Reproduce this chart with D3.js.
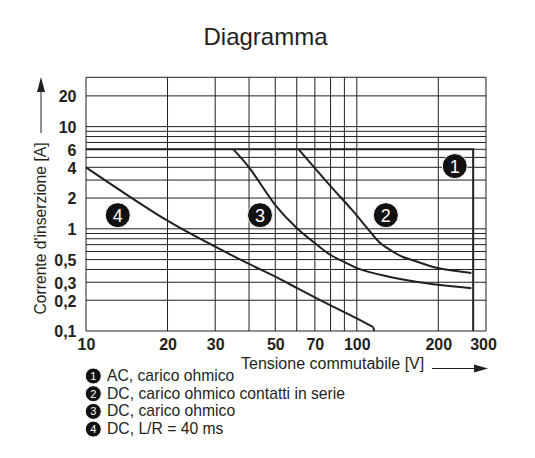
<!DOCTYPE html>
<html><head><meta charset="utf-8">
<script src="https://cdn.jsdelivr.net/npm/d3@7"></script>
<style>html,body{margin:0;padding:0;background:#fff}svg{display:block}text{font-family:"Liberation Sans",Arial,sans-serif;fill:#231f20}</style>
</head><body><div id="c"></div>
<script>
const title = "Diagramma";
const yLabel = "Corrente d'inserzione [A]";
const xLabel = "Tensione commutabile [V]";
const xGrid = [10,20,30,40,50,60,70,80,90,100,200,300];
const yGrid = [0.1,0.2,0.3,0.4,0.5,0.6,0.7,0.8,0.9,1,2,3,4,5,6,7,8,9,10,20];
const xTicks = [10,20,30,50,70,100,200,300];
const yTicks = [0.1,0.2,0.3,0.5,1,2,4,6,10,20];
const legendItems = ["AC, carico ohmico","DC, carico ohmico contatti in serie","DC, carico ohmico","DC, L/R = 40 ms"];
const curve1V = [10,269,269], curve1I = [6,6,0.1];
const curve2V = [61,80,96,112,122,133,148,162,197,265], curve2I = [6,2.62,1.53,0.94,0.726,0.62,0.53,0.49,0.416,0.37];
const curve3V = [35,40,50,60,70,80,90,100,128,170,265], curve3I = [6,4,1.71,1.02,0.726,0.554,0.473,0.413,0.345,0.3,0.262];
const curve4V = [10,20,30,40,50,60,70,80,100,115], curve4I = [4,1.2,0.668,0.453,0.34,0.264,0.213,0.178,0.133,0.109];
const curve4EndV = [115,116], curve4EndI = [0.109,0.1];
const badgeV = [230,128,43.9,13.1], badgeI = [4.11,1.36,1.36,1.36];
const ink = "#231f20";

const svg = d3.select("#c").append("svg").attr("width",535).attr("height",458);
const x = d3.scaleLog().domain([10,300]).range([86,486]);
const y = d3.scaleLog().domain([0.1,30.4]).range([331,77.3]);
const fmt = v => String(v).replace(".",",");

svg.append("text").attr("x",265.5).attr("y",45).attr("text-anchor","middle").attr("font-size",24).text(title);

const g = svg.append("g").attr("stroke",ink).attr("stroke-width",1).attr("fill","none");
g.selectAll(".gx").data(xGrid).join("line").attr("x1",d=>x(d)).attr("x2",d=>x(d)).attr("y1",y.range()[1]).attr("y2",y.range()[0]);
g.selectAll(".gy").data(yGrid).join("line").attr("y1",d=>y(d)).attr("y2",d=>y(d)).attr("x1",x.range()[0]).attr("x2",x.range()[1]);
g.append("line").attr("x1",x.range()[0]).attr("x2",x.range()[1]).attr("y1",y.range()[1]).attr("y2",y.range()[1]);

const axisX = d3.axisBottom(x).tickValues(xTicks).tickFormat(fmt).tickSize(0).tickPadding(0);
const ax = svg.append("g").attr("transform","translate(0,339)").call(axisX);
ax.select(".domain").remove();
ax.selectAll("text").attr("font-size",16).attr("font-weight","bold").attr("y",0).attr("dy","0.71em").attr("dx",d=>d===300?-3:0);
const axisY = d3.axisLeft(y).tickValues(yTicks).tickFormat(fmt).tickSize(0).tickPadding(0);
const ay = svg.append("g").attr("transform","translate(76.5,0)").call(axisY);
ay.select(".domain").remove();
ay.selectAll("text").attr("font-size",16).attr("font-weight","bold").attr("dy","0.36em");

const line = d3.line().x(d=>x(d[0])).y(d=>y(d[1]));
const smooth = d3.line().x(d=>x(d[0])).y(d=>y(d[1])).curve(d3.curveCatmullRom.alpha(0.5));
const zip = (a,b)=>a.map((v,i)=>[v,b[i]]);
const c = svg.append("g").attr("fill","none").attr("stroke",ink);
c.append("path").attr("d",line(zip(curve1V,curve1I))).attr("stroke-width",2);
[[curve2V,curve2I],[curve3V,curve3I],[curve4V,curve4I]].forEach(([a,b])=>{
  c.append("path").attr("d",smooth(zip(a,b))).attr("stroke-width",2);
});
c.append("path").attr("d",line(zip(curve4EndV,curve4EndI))).attr("stroke-width",2);

const badge = (sel,cx,cy,r,n,fs)=>{
  sel.append("circle").attr("cx",cx).attr("cy",cy).attr("r",r).attr("fill","#111").attr("stroke","#fff").attr("stroke-width",1);
  sel.append("text").attr("x",cx).attr("y",cy).attr("dy","0.36em").attr("text-anchor","middle").attr("font-size",fs).style("fill","#fff").text(n);
};
const bg = svg.append("g");
badgeV.forEach((v,i)=>badge(bg,x(v),y(badgeI[i]),12.5,i+1,18));

// axis titles and arrows
svg.append("text").attr("transform","translate(46,228.5) rotate(-90)").attr("text-anchor","middle").attr("font-size",15.7).text(yLabel);
svg.append("text").attr("x",241).attr("y",369).attr("font-size",16).text(xLabel);
svg.append("line").attr("x1",41).attr("x2",41).attr("y1",133).attr("y2",90).attr("stroke",ink);
svg.append("path").attr("d",d3.line()([[41,77],[45,92],[37,92]])+"Z").attr("fill",ink);
svg.append("line").attr("x1",432).attr("x2",476).attr("y1",368.5).attr("y2",368.5).attr("stroke",ink);
svg.append("path").attr("d",d3.line()([[488,368.5],[474,364.5],[474,372.5]])+"Z").attr("fill",ink);

const lg = svg.append("g");
legendItems.forEach((t,i)=>{
  const cy = 376+i*17.7;
  badge(lg,93.3,cy,8,i+1,11);
  lg.append("text").attr("x",107).attr("y",cy+5).attr("font-size",15.7).text(t);
});
</script></body></html>
